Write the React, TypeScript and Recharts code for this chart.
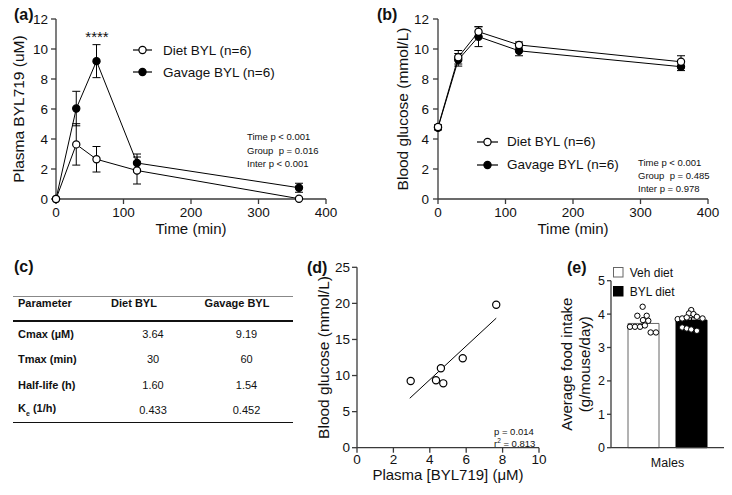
import {
  LineChart,
  Line,
  XAxis,
  YAxis,
  ErrorBar,
  Legend,
  Label,
  ScatterChart,
  Scatter,
  ComposedChart,
  Bar,
} from "recharts"

const FONT = "'Liberation Sans', Arial, Helvetica, sans-serif"
const INK = "#111"
const AXIS = "#3a3a3a"

// (a) plasma BYL719 and (b) blood glucose, sampled at the same times
const timePoints = [0, 30, 60, 120, 360]
const timeTicks = [0, 100, 200, 300, 400]
const plasmaDiet = [0, 3.64, 2.65, 1.9, 0.02]
const plasmaDietSem = [0, 1.38, 0.85, 0.9, 0]
const plasmaGavage = [0, 6.03, 9.19, 2.4, 0.75]
const plasmaGavageSem = [0, 1.15, 1.1, 0.6, 0.3]
const plasmaTicks = [0, 2, 4, 6, 8, 10, 12]
const plasmaStats = ["Time p < 0.001", "Group  p = 0.016", "Inter p < 0.001"]

const glucoseDiet = [4.8, 9.45, 11.15, 10.27, 9.15]
const glucoseDietSem = [0.15, 0.45, 0.34, 0.2, 0.4]
const glucoseGavage = [4.75, 9.28, 10.82, 9.88, 8.82]
const glucoseGavageSem = [0.15, 0.42, 0.66, 0.33, 0.26]
const glucoseTicks = [0, 2, 4, 6, 8, 10, 12]
const glucoseStats = ["Time p < 0.001", "Group  p = 0.485", "Inter p = 0.978"]

const seriesNames = ["Diet BYL (n=6)", "Gavage BYL (n=6)"]

// (c) PK table
const pkParams = ["Cmax (µM)", "Tmax (min)", "Half-life (h)", "K_e (1/h)"]
const pkDiet = ["3.64", "30", "1.60", "0.433"]
const pkGavage = ["9.19", "60", "1.54", "0.452"]

// (d) correlation
const corrX = [2.95, 4.34, 4.61, 4.74, 5.81, 7.65]
const corrY = [9.24, 9.34, 11.0, 8.92, 12.39, 19.8]
const fitX = [2.9, 7.65]
const fitY = [6.85, 17.95]
const corrXTicks = [0, 2, 4, 6, 8, 10]
const corrYTicks = [0, 5, 10, 15, 20, 25]

// (e) food intake
const foodGroups = ["Males"]
const vehMean = [3.72]
const vehSem = [0.09]
const bylMean = [3.82]
const bylSem = [0.07]
const vehDotX = [0.28, 0.233, 0.316, 0.283, 0.33, 0.168, 0.212, 0.257, 0.3, 0.351, 0.398]
const vehDotY = [4.22, 3.95, 3.95, 3.82, 3.8, 3.62, 3.62, 3.62, 3.66, 3.45, 3.45]
const bylDotX = [0.71, 0.69, 0.73, 0.59, 0.63, 0.67, 0.76, 0.81, 0.63, 0.67, 0.71, 0.76]
const bylDotY = [4.12, 4.02, 4.0, 3.85, 3.87, 3.9, 3.92, 3.87, 3.6, 3.57, 3.54, 3.5]
const foodTicks = [0, 1, 2, 3, 4, 5]

const plasmaData = timePoints.map((t, i) => ({
  t,
  diet: plasmaDiet[i],
  dietSem: plasmaDietSem[i],
  gavage: plasmaGavage[i],
  gavageSem: plasmaGavageSem[i],
}))
const glucoseData = timePoints.map((t, i) => ({
  t,
  diet: glucoseDiet[i],
  dietSem: glucoseDietSem[i],
  gavage: glucoseGavage[i],
  gavageSem: glucoseGavageSem[i],
}))
const corrData = corrX.map((x, i) => ({ x, y: corrY[i] }))
const fitData = fitX.map((x, i) => ({ x, y: fitY[i] }))
const foodData = foodGroups.map((g, i) => ({
  group: g,
  veh: vehMean[i],
  vehSem: vehSem[i],
  byl: bylMean[i],
  bylSem: bylSem[i],
}))
const vehDots = vehDotX.map((x, i) => ({ x, y: vehDotY[i] }))
const bylDots = bylDotX.map((x, i) => ({ x, y: bylDotY[i] }))

const axisLine = { stroke: AXIS, strokeWidth: 1.3 }
const tickFont = { fontSize: 13.5, fill: INK, fontFamily: FONT }
const titleStyle = { fontSize: 15.5, fill: INK, fontFamily: FONT }
const yTitleStyle = { ...titleStyle, textAnchor: "middle" as const }

function Txt({ x, y, size, bold, center, children }: any) {
  return (
    <div
      style={{
        position: "absolute",
        left: x,
        top: y,
        fontSize: size,
        fontWeight: bold ? 700 : 400,
        lineHeight: 1,
        whiteSpace: "pre",
        color: INK,
        fontFamily: FONT,
        transform: center ? "translate(-50%,-50%)" : "translateY(-50%)",
      }}
    >
      {children}
    </div>
  )
}

function LineKey({ rowH, lineW }: { rowH: number; lineW: number }) {
  return (
    <div style={{ fontFamily: FONT, fontSize: 13.5, color: INK }}>
      {seriesNames.map((name, i) => (
        <div key={name} style={{ display: "flex", alignItems: "center", height: rowH }}>
          <svg width={30} height={12} style={{ flex: "none" }}>
            <line x1={0} x2={lineW} y1={6} y2={6} stroke="#000" strokeWidth={1.2} />
            <circle cx={lineW / 2} cy={6} r={3.6} fill={i === 0 ? "#fff" : "#000"} stroke="#000" strokeWidth={1.2} />
          </svg>
          <span>{name}</span>
        </div>
      ))}
    </div>
  )
}

function BoxKey() {
  const items = [
    { name: "Veh diet", fill: "#fff", stroke: "#666" },
    { name: "BYL diet", fill: "#000", stroke: "#000" },
  ]
  return (
    <div style={{ fontFamily: FONT, fontSize: 12, color: INK }}>
      {items.map((it) => (
        <div key={it.name} style={{ display: "flex", alignItems: "center", height: 19 }}>
          <svg width={17} height={11} style={{ flex: "none" }}>
            <rect x={0.5} y={0.5} width={9.5} height={9.5} fill={it.fill} stroke={it.stroke} />
          </svg>
          <span>{it.name}</span>
        </div>
      ))}
    </div>
  )
}

function TimeCourse({ data, ticks, yLabel, yWidth, yOffset, tickMargin, legendPos, legendRow, legendLine }: any) {
  return (
    <LineChart
      width={yWidth === 56 ? 340 : 352}
      height={245}
      data={data}
      margin={{ top: 19, right: 14, bottom: 0, left: 0 }}
    >
      <XAxis
        dataKey="t"
        type="number"
        domain={[0, 400]}
        ticks={timeTicks}
        interval={0}
        height={46}
        axisLine={axisLine}
        tickLine={axisLine}
        tickSize={5}
        tickMargin={3}
        tick={tickFont}
      >
        <Label value="Time (min)" position="insideBottom" offset={11} fill={INK} style={{ ...titleStyle, fontSize: 15 }} />
      </XAxis>
      <YAxis
        type="number"
        domain={[0, 12]}
        ticks={ticks}
        interval={0}
        width={yWidth}
        axisLine={axisLine}
        tickLine={axisLine}
        tickSize={5}
        tickMargin={tickMargin}
        tick={tickFont}
      >
        <Label value={yLabel} angle={-90} position="insideLeft" offset={yOffset} fill={INK} style={yTitleStyle} />
      </YAxis>
      <Line
        dataKey="gavage"
        type="linear"
        stroke="#000"
        strokeWidth={1}
        dot={{ r: 3.6, fill: "#000", stroke: "#000", strokeWidth: 1.2 }}
        activeDot={false}
        isAnimationActive={false}
      >
        <ErrorBar dataKey="gavageSem" direction="y" width={4} stroke="#000" strokeWidth={1} />
      </Line>
      <Line
        dataKey="diet"
        type="linear"
        stroke="#000"
        strokeWidth={1}
        dot={{ r: 3.6, fill: "#fff", stroke: "#000", strokeWidth: 1.2 }}
        activeDot={false}
        isAnimationActive={false}
      >
        <ErrorBar dataKey="dietSem" direction="y" width={4} stroke="#000" strokeWidth={1} />
      </Line>
      <Legend
        layout="vertical"
        align="center"
        verticalAlign="middle"
        wrapperStyle={{ left: legendPos[0], top: legendPos[1] }}
        content={() => <LineKey rowH={legendRow} lineW={legendLine} />}
      />
    </LineChart>
  )
}

function PkTable() {
  const rowY = (i: number) => 334 + i * 25.4
  return (
    <>
      <div style={{ position: "absolute", left: 13, top: 295.5, width: 280, height: 1, background: "#888" }} />
      <div style={{ position: "absolute", left: 13, top: 320.3, width: 280, height: 1.5, background: "#111" }} />
      <div style={{ position: "absolute", left: 13, top: 421.6, width: 280, height: 1.5, background: "#111" }} />
      <Txt x={18} y={302.7} size={11} bold>Parameter</Txt>
      <Txt x={134} y={302.7} size={11} bold center>Diet BYL</Txt>
      <Txt x={237} y={302.7} size={11} bold center>Gavage BYL</Txt>
      {pkParams.map((p, i) => {
        const [main, rest] = p.split("_")
        return (
          <div key={p}>
            <Txt x={18} y={rowY(i)} size={11} bold>
              {rest ? (
                <>
                  {main}
                  <sub style={{ fontSize: 7 }}>{rest[0]}</sub>
                  {rest.slice(1)}
                </>
              ) : (
                main
              )}
            </Txt>
            <Txt x={153} y={rowY(i)} size={11} center>{pkDiet[i]}</Txt>
            <Txt x={246.5} y={rowY(i)} size={11} center>{pkGavage[i]}</Txt>
          </div>
        )
      })}
    </>
  )
}

export default function App() {
  return (
    <div
      style={{
        position: "absolute",
        left: 0,
        top: 0,
        width: 732,
        height: 495,
        background: "#fff",
        overflow: "hidden",
        fontFamily: FONT,
      }}
    >
      {/* (a) */}
      <div style={{ position: "absolute", left: 0, top: 0 }}>
        <TimeCourse
          data={plasmaData}
          ticks={plasmaTicks}
          yLabel="Plasma BYL719 (uM)"
          yWidth={56}
          yOffset={18}
          tickMargin={3}
          legendPos={[133, 39]}
          legendRow={22}
          legendLine={19}
        />
      </div>
      <Txt x={14} y={15} size={16} bold>(a)</Txt>
      <Txt x={97} y={36} size={15} center>****</Txt>
      {plasmaStats.map((s, i) => (
        <Txt key={s} x={247} y={137 + i * 13.5} size={9.5}>{s}</Txt>
      ))}

      {/* (b) */}
      <div style={{ position: "absolute", left: 370, top: 0 }}>
        <TimeCourse
          data={glucoseData}
          ticks={glucoseTicks}
          yLabel="Blood glucose (mmol/L)"
          yWidth={68}
          yOffset={32}
          tickMargin={4}
          legendPos={[107, 130]}
          legendRow={23.3}
          legendLine={21}
        />
      </div>
      <Txt x={377} y={15} size={16} bold>(b)</Txt>
      {glucoseStats.map((s, i) => (
        <Txt key={s} x={638} y={163 + i * 13} size={9.5}>{s}</Txt>
      ))}

      {/* (c) */}
      <Txt x={14} y={266.7} size={16} bold>(c)</Txt>
      <PkTable />

      {/* (d) */}
      <div style={{ position: "absolute", left: 300, top: 250 }}>
        <ScatterChart width={250} height={245} margin={{ top: 17.3, right: 11, bottom: 0, left: 0 }}>
          <XAxis
            dataKey="x"
            type="number"
            domain={[0, 10]}
            ticks={corrXTicks}
            interval={0}
            height={47.3}
            axisLine={axisLine}
            tickLine={axisLine}
            tickSize={5}
            tickMargin={1.5}
            tick={tickFont}
          >
            <Label value="Plasma [BYL719] (μM)" position="insideBottom" offset={15.5} fill={INK} style={{ ...titleStyle, fontSize: 15 }} />
          </XAxis>
          <YAxis
            dataKey="y"
            type="number"
            domain={[0, 25]}
            ticks={corrYTicks}
            interval={0}
            width={57}
            axisLine={axisLine}
            tickLine={axisLine}
            tickSize={5}
            tickMargin={2}
            tick={tickFont}
          >
            <Label value="Blood glucose (mmol/L)" angle={-90} position="insideLeft" offset={23} fill={INK} style={yTitleStyle} />
          </YAxis>
          <Scatter
            data={fitData}
            line={{ stroke: "#000", strokeWidth: 1 }}
            shape={() => <g />}
            isAnimationActive={false}
          />
          <Scatter
            data={corrData}
            shape={(p: any) => <circle cx={p.cx} cy={p.cy} r={3.6} fill="#fff" stroke="#000" strokeWidth={1.2} />}
            isAnimationActive={false}
          />
        </ScatterChart>
      </div>
      <Txt x={307} y={268} size={16} bold>(d)</Txt>
      <Txt x={494} y={431.7} size={9.5}>p = 0.014</Txt>
      <Txt x={494} y={443.3} size={9.5}>
        r<sup style={{ fontSize: 6.5 }}>2</sup> = 0.813
      </Txt>

      {/* (e) */}
      <div style={{ position: "absolute", left: 548, top: 250 }}>
        <ComposedChart
          width={184}
          height={245}
          data={foodData}
          margin={{ top: 30.7, right: 8, bottom: 0, left: 0 }}
          barGap={17}
          barSize={31}
        >
          <XAxis
            xAxisId="cat"
            dataKey="group"
            height={47.3}
            axisLine={axisLine}
            tickLine={false}
            tickSize={0}
            tickMargin={10}
            tick={{ ...tickFont, fontSize: 12.5 }}
          />
          <XAxis xAxisId="num" dataKey="x" type="number" domain={[0, 1]} hide />
          <YAxis
            type="number"
            domain={[0, 5]}
            ticks={foodTicks}
            interval={0}
            width={63}
            axisLine={axisLine}
            tickLine={axisLine}
            tickSize={4}
            tickMargin={2}
            tick={{ ...tickFont, fontSize: 12.5 }}
          >
            <Label value="Average food intake" angle={-90} position="insideLeft" offset={18.7} fill={INK} style={{ ...yTitleStyle, fontSize: 15 }} />
            <Label value="(g/mouse/day)" angle={-90} position="insideLeft" offset={37} fill={INK} style={{ ...yTitleStyle, fontSize: 15 }} />
          </YAxis>
          <Bar xAxisId="cat" dataKey="veh" fill="#fff" stroke="#666" strokeWidth={1} isAnimationActive={false}>
            <ErrorBar dataKey="vehSem" direction="y" width={3} stroke="#000" strokeWidth={1} />
          </Bar>
          <Bar xAxisId="cat" dataKey="byl" fill="#000" stroke="#000" strokeWidth={1} isAnimationActive={false}>
            <ErrorBar dataKey="bylSem" direction="y" width={3} stroke="#000" strokeWidth={1} />
          </Bar>
          <Scatter
            xAxisId="num"
            data={vehDots}
            dataKey="y"
            shape={(p: any) => <circle cx={p.cx} cy={p.cy} r={2.7} fill="#fff" stroke="#000" strokeWidth={1} />}
            isAnimationActive={false}
          />
          <Scatter
            xAxisId="num"
            data={bylDots}
            dataKey="y"
            shape={(p: any) => <circle cx={p.cx} cy={p.cy} r={2.7} fill="#fff" stroke="#000" strokeWidth={1} />}
            isAnimationActive={false}
          />
          <Legend
            layout="vertical"
            align="center"
            verticalAlign="middle"
            wrapperStyle={{ left: 64.7, top: 13.2 }}
            content={() => <BoxKey />}
          />
        </ComposedChart>
      </div>
      <Txt x={567} y={268} size={16} bold>(e)</Txt>
    </div>
  )
}
